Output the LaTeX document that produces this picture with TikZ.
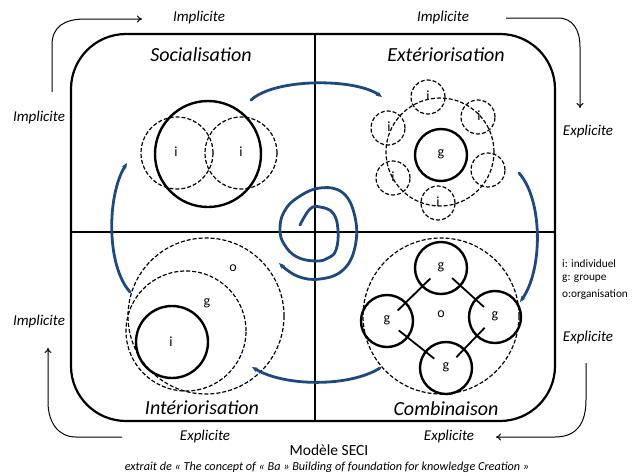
\documentclass[tikz,border=0pt]{standalone}
\usepackage{fontspec}
\setmainfont{Carlito}
\usetikzlibrary{arrows.meta}
\definecolor{seciblue}{RGB}{31,73,125}
\begin{document}
\begin{tikzpicture}[x=1pt,y=-1pt,
  frame/.style={line width=2.2pt},
  divider/.style={line width=1.6pt},
  solidc/.style={circle,draw,line width=2.4pt,inner sep=0pt},
  dashc/.style={circle,draw,line width=1.2pt,dash pattern=on 4pt off 2pt,inner sep=0pt},
  bluearrow/.style={draw=seciblue,line width=2.8pt,line cap=round,-{Stealth[length=6pt,width=5pt]}},
  blk/.style={line width=1pt,-{To[length=5pt,width=7pt]}},
  side/.style={font=\fontsize{15}{17}\selectfont\itshape},
  title/.style={font=\fontsize{20}{22}\selectfont\itshape},
  lbl/.style={font=\fontsize{14}{16}\selectfont},
  legend/.style={font=\fontsize{11.3}{13}\selectfont,anchor=west,inner sep=0pt},
  link/.style={line width=1.8pt,shorten >=15pt,shorten <=15pt}
]
\useasboundingbox (0,0) rectangle (633,475);

% main frame and dividers
\draw[frame,rounded corners=55pt] (71,34) rectangle (555,421);
\draw[divider] (315,34) -- (315,421);
\draw[divider] (71,232) -- (555,232);

% titles
\node[title] (tS) at (201,55) {Socialisation};
\node[title] (tE) at (446,55) {Extériorisation};
\node[title] (tI) at (202,408) {Intériorisation};
\node[title] (tC) at (446,409) {Combinaison};

% side labels
\node[side] (l1) at (199,17) {Implicite};
\node[side] (l2) at (443,17) {Implicite};
\node[side] (l3) at (39,117) {Implicite};
\node[side] (l4) at (588,131) {Explicite};
\node[side] (l5) at (39,321) {Implicite};
\node[side] (l6) at (588,337) {Explicite};
\node[side] (l7) at (205,436) {Explicite};
\node[side] (l8) at (449,436) {Explicite};

% black corner arrows
\coordinate (a1s) at (52,92);  \coordinate (a1e) at (142,19);
\draw[blk] (a1s) -- (52,45) .. controls (52,27) and (64,19) .. (85,19) -- (a1e);
\coordinate (a2s) at (506,18); \coordinate (a2e) at (580,108);
\draw[blk] (a2s) -- (558,18) .. controls (573,18) and (580,30) .. (580,47) -- (a2e);
\coordinate (a3s) at (122,437); \coordinate (a3e) at (48,348);
\draw[blk] (a3s) -- (76,437) .. controls (58,437) and (48,422) .. (48,402) -- (a3e);
\coordinate (a4s) at (586,363); \coordinate (a4e) at (496,437);
\draw[blk] (a4s) -- (586,400) .. controls (586,424) and (576,437) .. (555,437) -- (a4e);

% Socialisation
\node[solidc,minimum size=106pt] (sg) at (208,154) {};
\node[dashc,minimum size=72pt] (si1) at (177,153) {};
\node[dashc,minimum size=72pt] (si2) at (241,153) {};
\node[lbl] (si1t) at (176,152) {i};
\node[lbl] (si2t) at (241,152) {i};

% Exteriorisation
\node[dashc,minimum size=108pt] (ering) at (440,152) {};
\node[solidc,minimum size=52pt] (eg) at (441,155) {};
\node[lbl] (egt) at (441,154) {g};
\node[dashc,minimum size=34pt] (e1) at (428,97) {};
\node[dashc,minimum size=34pt] (e2) at (388,128) {};
\node[dashc,minimum size=34pt] (e3) at (478,117) {};
\node[dashc,minimum size=34pt] (e4) at (393,178) {};
\node[dashc,minimum size=34pt] (e5) at (488,170) {};
\node[dashc,minimum size=34pt] (e6) at (438,203) {};
\node[lbl] (e1t) at (428,96) {i};
\node[lbl] (e2t) at (389,127) {i};
\node[lbl] (e3t) at (479,116) {i};
\node[lbl] (e4t) at (393,177) {i};
\node[lbl] (e6t) at (438,202) {i};

% Interiorisation
\node[dashc,minimum size=156pt] (io) at (206,316) {};
\node[dashc,minimum size=120pt] (ig) at (186,331) {};
\node[solidc,minimum size=72pt] (ii) at (172,342) {};
\node[lbl] (iot) at (233,268) {o};
\node[lbl] (igt) at (207,303) {g};
\node[lbl] (iit) at (171,342) {i};

% Combinaison
\node[dashc,minimum size=156pt] (co) at (441,316) {};
\node[lbl] (cot) at (441,314) {o};
\node[solidc,minimum size=52pt] (cg1) at (441,268) {};
\node[solidc,minimum size=52pt] (cg2) at (387,321) {};
\node[solidc,minimum size=52pt] (cg3) at (495,317) {};
\node[solidc,minimum size=52pt] (cg4) at (446,368) {};
\node[lbl] (cg1t) at (441,267) {g};
\node[lbl] (cg2t) at (387,320) {g};
\node[lbl] (cg3t) at (495,316) {g};
\node[lbl] (cg4t) at (446,367) {g};
\draw[link] (cg1.center) -- (cg2.center);
\draw[link] (cg1.center) -- (cg3.center);
\draw[link] (cg2.center) -- (cg4.center);
\draw[link] (cg3.center) -- (cg4.center);

% blue cycle arrows
\coordinate (b1s) at (251,100); \coordinate (b1e) at (382,97);
\draw[bluearrow] (b1s) .. controls (275,78) and (355,78) .. (b1e);
\coordinate (b2s) at (519,173); \coordinate (b2e) at (520,302);
\draw[bluearrow] (b2s) .. controls (543,200) and (543,270) .. (b2e);
\coordinate (b3s) at (380,368); \coordinate (b3e) at (252,367);
\draw[bluearrow] (b3s) .. controls (350,387) and (285,387) .. (b3e);
\coordinate (b4s) at (130,292); \coordinate (b4e) at (127,163);
\draw[bluearrow] (b4s) .. controls (106,265) and (107,195) .. (b4e);

% spiral
\draw[bluearrow] plot[smooth,tension=0.7] coordinates {
  (300,225) (310,209) (320,207) (333,213) (338,230) (336,250) (328,258)
  (316,261) (297,257) (284,244) (280,229) (284,212) (297,198) (320,188)
  (343,193) (355,217) (355,247) (343,270) (320,279) (297,276) (279,263)};

% legend
\node[legend] (lg1) at (562,264) {i: individuel};
\node[legend] (lg2) at (562,279) {g: groupe};
\node[legend] (lg3) at (562,295) {o:organisation};

% captions
\node[font=\fontsize{15.5}{17}\selectfont] (cap1) at (329,450) {Modèle SECI};
\node[font=\fontsize{12.2}{14}\selectfont\itshape] (cap2) at (327,467) {extrait de « The concept of « Ba » Building of foundation for knowledge Creation »};
\end{tikzpicture}
\end{document}
